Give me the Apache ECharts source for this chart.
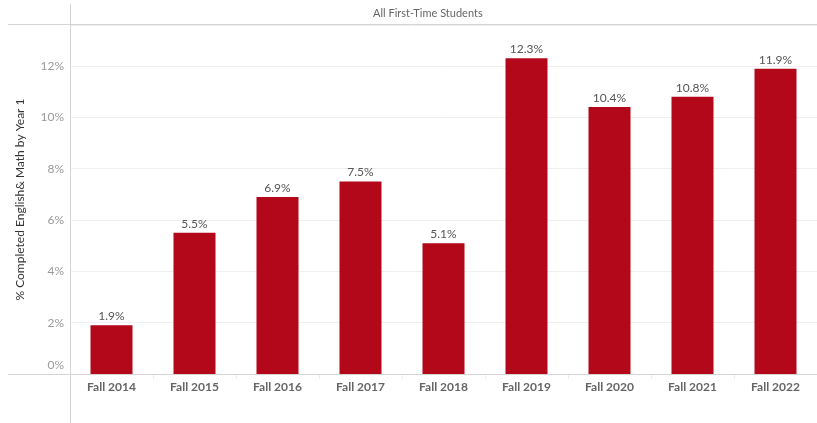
<!DOCTYPE html>
<html>
<head>
<meta charset="utf-8">
<script src="https://cdn.jsdelivr.net/npm/echarts@6/dist/echarts.min.js"></script>
<style>
  html, body { margin: 0; padding: 0; background: #fff; }
  #chart { width: 817px; height: 423px; }
</style>
</head>
<body>
<div id="chart"></div>
<script>
// data
var categories = ['Fall 2014', 'Fall 2015', 'Fall 2016', 'Fall 2017', 'Fall 2018', 'Fall 2019', 'Fall 2020', 'Fall 2021', 'Fall 2022'];
var completedPct = [1.9, 5.5, 6.9, 7.5, 5.1, 12.3, 10.4, 10.8, 11.9];
var yTicks = [0, 2, 4, 6, 8, 10, 12];
var headerTitle = 'All First-Time Students';
var yAxisTitle = '% Completed English& Math by Year 1';

var font = 'Lato, "Open Sans", sans-serif';
var chart = echarts.init(document.getElementById('chart'));

chart.setOption({
  animation: false,
  grid: { left: 70, right: 0, top: 25, bottom: 49 },
  graphic: [
    { type: 'line', shape: { x1: 70.5, y1: 4, x2: 70.5, y2: 423 }, style: { stroke: '#d4d4d4', lineWidth: 1 }, z: 10 },
    { type: 'line', shape: { x1: 8, y1: 24.5, x2: 817, y2: 24.5 }, style: { stroke: '#d4d4d4', lineWidth: 1 }, z: 10 },
    { type: 'line', shape: { x1: 8, y1: 374.5, x2: 817, y2: 374.5 }, style: { stroke: '#d4d4d4', lineWidth: 1 }, z: 10 },
    { type: 'text', left: 443 - 70, top: 8, style: { text: headerTitle, fill: '#666', font: '11px ' + font } }
  ],
  xAxis: {
    type: 'category',
    data: categories,
    axisLine: { show: false },
    axisTick: { show: true, length: 5, lineStyle: { color: '#eee' } },
    axisLabel: { color: '#666', fontWeight: 'bold', fontSize: 12, fontFamily: font, margin: 7 }
  },
  yAxis: {
    type: 'value',
    min: 0,
    max: 13.6,
    interval: 2,
    name: yAxisTitle,
    nameLocation: 'middle',
    nameGap: 44,
    nameTextStyle: { color: '#333', fontSize: 12, fontFamily: font },
    axisLine: { show: false },
    axisTick: { show: false },
    axisLabel: {
      color: '#999', fontSize: 12, fontFamily: font, margin: 6, showMaxLabel: false,
      formatter: function (v) {
        if (yTicks.indexOf(v) < 0) return '';
        return v === 0 ? '{low|0%}' : v + '%';
      },
      rich: { low: { color: '#999', fontSize: 12, fontFamily: font, padding: [0, 0, 18, 0] } }
    },
    splitLine: { lineStyle: { color: '#efefef' } }
  },
  series: [{
    type: 'bar',
    data: completedPct,
    barWidth: 42,
    itemStyle: { color: '#b20819' },
    label: {
      show: true, position: 'top', distance: 3,
      color: '#555', fontSize: 12, fontFamily: font,
      formatter: function (p) { return p.value.toFixed(1) + '%'; }
    }
  }]
});
</script>
</body>
</html>
